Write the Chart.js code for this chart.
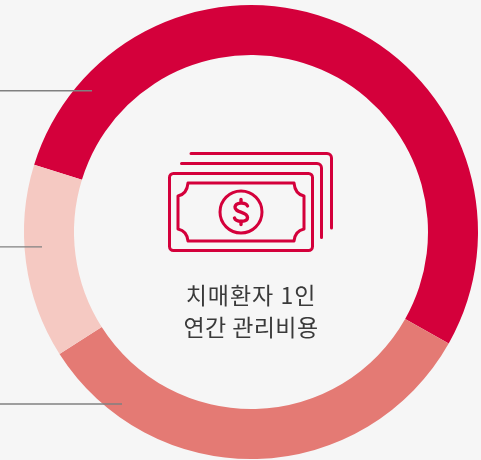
<!DOCTYPE html>
<html lang="ko">
<head>
<meta charset="utf-8">
<title>치매환자 1인 연간 관리비용</title>
<script src="https://cdn.jsdelivr.net/npm/chart.js@4"></script>
<style>
  html, body { margin: 0; padding: 0; background: #f6f6f6; overflow: hidden; }
  canvas { display: block; }
</style>
</head>
<body>
<canvas id="costChart" width="481" height="460"></canvas>
<script>
const segments = ['구간 1', '구간 2', '구간 3'];
const shares = [53.4, 32.8, 13.8];
const segmentColors = ['#d4003b', '#e47a74', '#f5c9c2'];
const centerLines = ['치매환자 1인', '연간 관리비용'];

// leader lines start at the left edge of the page
const leaderY = [90.7, 246.9, 404];
const leaderEnd = [92, 42, 122];

const RED = '#d4003b';

function stroke(ctx, draw) {
  ctx.beginPath();
  draw();
  ctx.stroke();
}

function drawIcon(ctx, cx, cy) {
  ctx.save();
  ctx.translate(cx, cy);
  ctx.strokeStyle = RED;
  ctx.lineWidth = 3;
  ctx.lineCap = 'round';
  ctx.lineJoin = 'round';

  // back notes
  stroke(ctx, () => {
    ctx.moveTo(-60, -78.5);
    ctx.lineTo(76, -78.5);
    ctx.arcTo(80.5, -78.5, 80.5, -74, 4.5);
    ctx.lineTo(80.5, -4);
  });
  stroke(ctx, () => {
    ctx.moveTo(-69.5, -68.5);
    ctx.lineTo(66, -68.5);
    ctx.arcTo(70.5, -68.5, 70.5, -64, 4.5);
    ctx.lineTo(70.5, 5.5);
  });

  // front note
  stroke(ctx, () => ctx.roundRect(-81.5, -58.5, 143, 77, 4));

  // inner frame with cut corners
  stroke(ctx, () => {
    ctx.moveTo(-63, -49);
    ctx.lineTo(43, -49);
    ctx.quadraticCurveTo(44, -38, 53, -36);
    ctx.lineTo(53, -3);
    ctx.quadraticCurveTo(44, -1, 43, 9);
    ctx.lineTo(-63, 9);
    ctx.quadraticCurveTo(-64, -1, -73, -3);
    ctx.lineTo(-73, -36);
    ctx.quadraticCurveTo(-64, -38, -63, -49);
    ctx.closePath();
  });

  // coin
  stroke(ctx, () => ctx.arc(-10, -20, 21, 0, Math.PI * 2));

  // dollar sign
  ctx.lineWidth = 3.4;
  stroke(ctx, () => {
    ctx.moveTo(-3.5, -26);
    ctx.bezierCurveTo(-5, -30, -15.5, -30, -16, -25);
    ctx.bezierCurveTo(-16.5, -19, -3.5, -21, -3.5, -14.5);
    ctx.bezierCurveTo(-3.5, -9.5, -15, -9.5, -16.5, -14);
  });
  stroke(ctx, () => {
    ctx.moveTo(-10, -32.5);
    ctx.lineTo(-10, -29.5);
    ctx.moveTo(-10, -10.5);
    ctx.lineTo(-10, -7.5);
  });
  ctx.restore();
}

const centerArt = {
  id: 'centerArt',
  afterDraw(chart) {
    const ctx = chart.ctx;
    const arc = chart.getDatasetMeta(0).data[0];
    const cx = arc.x, cy = arc.y;

    ctx.save();
    drawIcon(ctx, cx, cy);

    ctx.fillStyle = '#3a3a3a';
    ctx.font = '23px "Noto Sans CJK KR", "Noto Sans", sans-serif';
    ctx.textAlign = 'center';
    ctx.textBaseline = 'alphabetic';
    centerLines.forEach((line, i) => {
      ctx.letterSpacing = i === 0 ? '1px' : '0.4px';
      ctx.fillText(line, cx, cy + 72 + i * 32);
    });

    ctx.strokeStyle = '#808080';
    ctx.lineWidth = 1.4;
    leaderY.forEach((y, i) => {
      ctx.beginPath();
      ctx.moveTo(0, y);
      ctx.lineTo(leaderEnd[i], y);
      ctx.stroke();
    });
    ctx.restore();
  }
};

new Chart(document.getElementById('costChart').getContext('2d'), {
  type: 'doughnut',
  data: {
    labels: segments,
    datasets: [{
      data: shares,
      backgroundColor: segmentColors,
      borderWidth: 0
    }]
  },
  options: {
    responsive: false,
    animation: false,
    rotation: 287.2,
    cutout: 177,
    layout: { padding: { left: 24, right: 3, top: 5, bottom: 1 } },
    plugins: {
      legend: { display: false },
      tooltip: { enabled: false }
    }
  },
  plugins: [centerArt]
});
</script>
</body>
</html>
